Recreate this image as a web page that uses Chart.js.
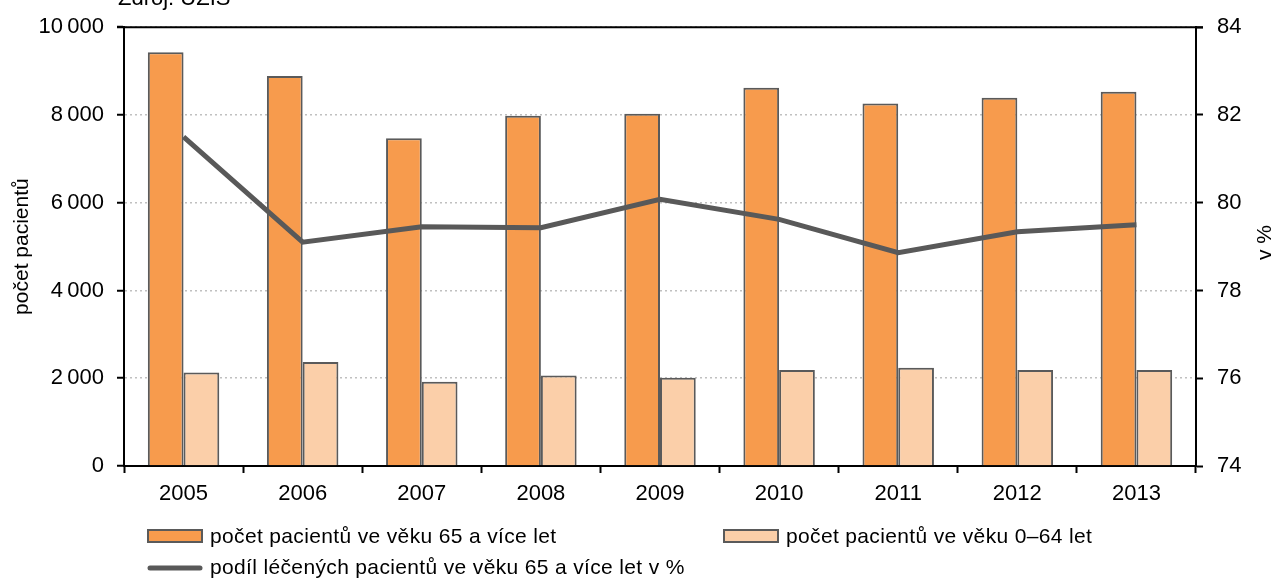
<!DOCTYPE html>
<html lang="cs">
<head>
<meta charset="UTF-8" />
<title>Počet pacientů</title>
<script src="https://cdn.jsdelivr.net/npm/chart.js"></script>
<style>
  html, body { margin: 0; padding: 0; background: #fff; }
  #wrap { width: 1279px; height: 586px; }
</style>
</head>
<body>
<div id="wrap"><canvas id="chart" width="1279" height="586"></canvas></div>
<script>
  // data
  const years = ['2005', '2006', '2007', '2008', '2009', '2010', '2011', '2012', '2013'];
  const patients65plus = [9430, 8890, 7470, 7980, 8030, 8620, 8260, 8390, 8530];
  const patients0to64 = [2130, 2370, 1920, 2060, 2010, 2190, 2240, 2190, 2190];
  const share65plus = [81.5, 79.1, 79.45, 79.43, 80.08, 79.62, 78.86, 79.34, 79.5];

  const leftTicks = [0, 2000, 4000, 6000, 8000, 10000];
  const rightTicks = [74, 76, 78, 80, 82, 84];

  const legendLabels = [
    'počet pacientů ve věku 65 a více let',
    'počet pacientů ve věku 0–64 let',
    'podíl léčených pacientů ve věku 65 a více let v %'
  ];

  const FONT = "'Liberation Sans', Arial, sans-serif";
  const ORANGE = '#f79b4d';
  const PEACH = '#fbcfa9';
  const EDGE = '#5a5a5a';
  const LINE = '#595959';

  function fmt(v) {
    return String(v).replace(/\B(?=(\d{3})+(?!\d))/g, '\u2009');
  }

  // titles, frame and legend
  const extras = {
    id: 'extras',
    afterDraw(chart) {
      const { ctx, chartArea: a } = chart;
      ctx.save();
      // top frame line
      ctx.strokeStyle = '#000';
      ctx.lineWidth = 2;
      ctx.beginPath();
      ctx.moveTo(a.left - 7, a.top);
      ctx.lineTo(a.right + 7, a.top);
      ctx.stroke();

      ctx.fillStyle = '#000';
      ctx.font = '22px ' + FONT;
      ctx.textBaseline = 'alphabetic';
      ctx.textAlign = 'left';
      ctx.fillText('Zdroj: ÚZIS', 118, 5);

      // axis titles
      const cy = (a.top + a.bottom) / 2;
      ctx.textAlign = 'center';
      ctx.textBaseline = 'middle';
      ctx.font = '21px ' + FONT;
      ctx.save();
      ctx.translate(22, cy);
      ctx.rotate(-Math.PI / 2);
      ctx.fillText('počet pacientů', 0, 0, 142);
      ctx.restore();
      ctx.save();
      ctx.translate(1265, cy - 4);
      ctx.rotate(-Math.PI / 2);
      ctx.fillText('v %', 0, 0);
      ctx.restore();

      // legend
      ctx.textAlign = 'left';
      ctx.font = '21px ' + FONT;
      ctx.letterSpacing = '0.35px';
      const drawBox = (x, y, fill) => {
        ctx.fillStyle = fill;
        ctx.fillRect(x, y - 6, 54, 12);
        ctx.strokeStyle = EDGE;
        ctx.lineWidth = 2;
        ctx.strokeRect(x, y - 6, 54, 12);
      };
      drawBox(148, 536, ORANGE);
      ctx.fillStyle = '#000';
      ctx.fillText(legendLabels[0], 210, 537, 348);
      drawBox(724, 536, PEACH);
      ctx.fillStyle = '#000';
      ctx.fillText(legendLabels[1], 786, 537, 308);
      ctx.strokeStyle = LINE;
      ctx.lineWidth = 5;
      ctx.lineCap = 'round';
      ctx.beginPath();
      ctx.moveTo(150, 568);
      ctx.lineTo(200, 568);
      ctx.stroke();
      ctx.fillStyle = '#000';
      ctx.fillText(legendLabels[2], 210, 568, 480);
      ctx.restore();
    }
  };

  new Chart(document.getElementById('chart'), {
    type: 'bar',
    data: {
      labels: years,
      datasets: [
        {
          type: 'line',
          label: legendLabels[2],
          data: share65plus,
          yAxisID: 'y1',
          borderColor: LINE,
          borderWidth: 5,
          pointRadius: 0,
          tension: 0,
          order: 0
        },
        {
          label: legendLabels[0],
          data: patients65plus,
          yAxisID: 'y',
          backgroundColor: ORANGE,
          borderColor: EDGE,
          borderWidth: 2,
          categoryPercentage: 0.6,
          barPercentage: 1,
          order: 1
        },
        {
          label: legendLabels[1],
          data: patients0to64,
          yAxisID: 'y',
          backgroundColor: PEACH,
          borderColor: EDGE,
          borderWidth: 2,
          categoryPercentage: 0.6,
          barPercentage: 1,
          order: 1
        }
      ]
    },
    options: {
      responsive: false,
      animation: false,
      layout: { padding: { top: 24, left: 0, right: 0, bottom: 0 } },
      plugins: {
        legend: { display: false },
        tooltip: { enabled: false }
      },
      scales: {
        x: {
          grid: { offset: true, drawOnChartArea: false, tickLength: 7, tickColor: '#000', tickWidth: 2 },
          border: { color: '#000', width: 2 },
          ticks: { color: '#000', font: { family: FONT, size: 22 }, padding: 8, maxRotation: 0 },
          afterFit(s) { s.height = 120; }
        },
        y: {
          position: 'left',
          min: 0,
          max: 10000,
          afterBuildTicks(s) { s.ticks = leftTicks.map(v => ({ value: v })); },
          grid: {
            color: '#c0c0c0', lineWidth: 1.5,
            tickLength: 7, tickColor: '#000', tickWidth: 2
          },
          border: { color: '#000', width: 2, dash: [2, 3] },
          ticks: {
            color: '#000', font: { family: FONT, size: 22 }, padding: 13,
            callback: v => fmt(v)
          },
          afterFit(s) { s.width = 124; }
        },
        y1: {
          position: 'right',
          min: 74,
          max: 84,
          afterBuildTicks(s) { s.ticks = rightTicks.map(v => ({ value: v })); },
          grid: { drawOnChartArea: false, tickLength: 7, tickColor: '#000', tickWidth: 2 },
          border: { color: '#000', width: 2 },
          ticks: { color: '#000', font: { family: FONT, size: 22 }, padding: 14 },
          afterFit(s) { s.width = 83; }
        }
      }
    },
    plugins: [extras]
  });
</script>
</body>
</html>
